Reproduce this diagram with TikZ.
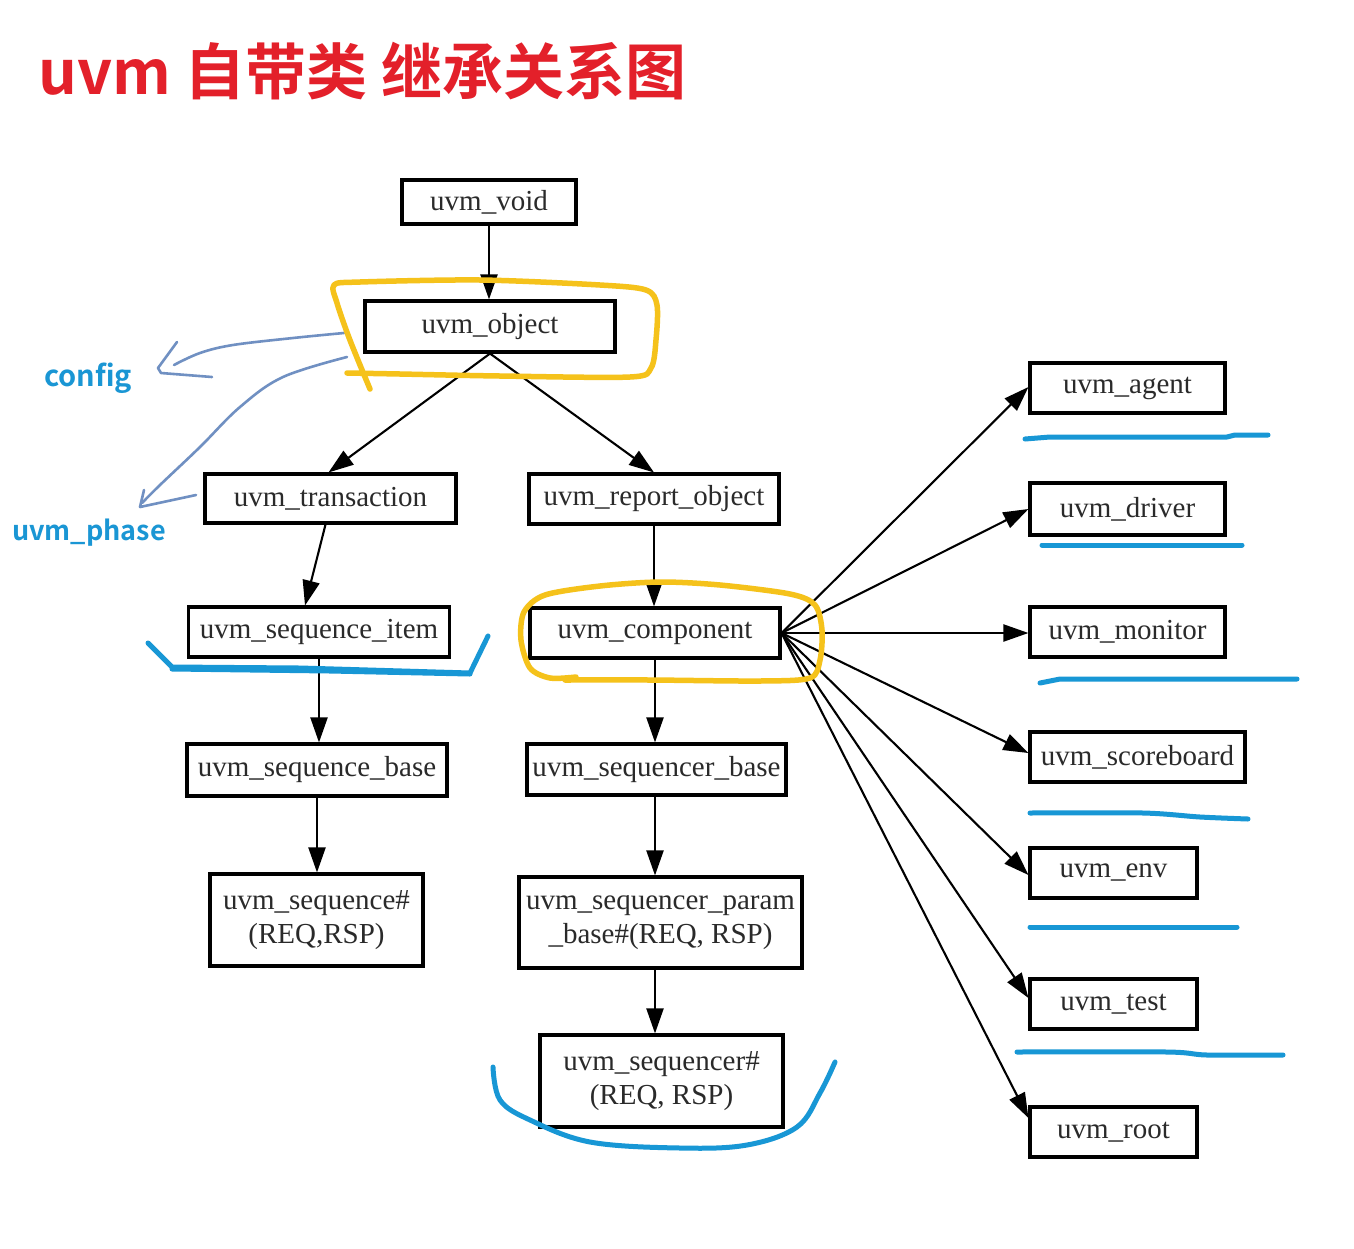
\documentclass[tikz,border=0pt]{standalone}
\usepackage{fontspec}
\setmainfont{Liberation Serif}
\newfontfamily\cjk{Noto Sans CJK SC}[BoldFont={Noto Sans CJK SC Bold}]
\usetikzlibrary{arrows.meta}
\definecolor{txt}{HTML}{2A2A2A}
\definecolor{titlered}{HTML}{E3202A}
\definecolor{labelblue}{HTML}{1A96D4}
\definecolor{penblue}{HTML}{1897D5}
\definecolor{steel}{HTML}{7090C2}
\definecolor{marker}{HTML}{F5C21B}
\begin{document}
\begin{tikzpicture}[x=1pt,y=-1pt,
  box/.style={draw=black, line width=3.1pt, inner sep=0pt, text=txt,
    font=\fontsize{29}{34}\selectfont, align=center},
  edge/.style={line width=2.1pt, draw=black, -{Triangle[length=25pt,width=17pt]}},
  hilite/.style={draw=marker, line width=5.5pt, line cap=round, line join=round},
  underl/.style={draw=penblue, line width=5pt, line cap=round, line join=round},
  penarrow/.style={draw=steel, line width=2.6pt, line cap=round, line join=round},
  lbl/.style={font=\cjk\bfseries\fontsize{29}{32}\selectfont, text=labelblue, inner sep=0pt, anchor=base west}]
\useasboundingbox (0,0) rectangle (1354,1248);
\fill[white] (0,0) rectangle (1354,1248);

% title
\node[anchor=base west, inner sep=0pt, text=titlered,
  font=\cjk\bfseries\fontsize{61}{64}\selectfont] (title) at (38,94) {uvm 自带类 继承关系图};

% nodes
\node[box, minimum width=174pt, minimum height=44pt] (void) at (489,202) {uvm\_void};
\node[box, minimum width=250pt, minimum height=51pt] (object) at (490,326.5) {uvm\_object};
\node[box, minimum width=251pt, minimum height=49pt] (trans) at (330.5,498.5) {uvm\_transaction};
\node[box, minimum width=250pt, minimum height=50pt] (report) at (654,499) {uvm\_report\_object};
\node[box, minimum width=261pt, minimum height=50pt] (item) at (319,632) {uvm\_sequence\_item};
\node[box, minimum width=250pt, minimum height=50pt] (comp) at (655,633) {uvm\_component};
\node[box, minimum width=260pt, minimum height=52pt] (seqbase) at (317,770) {uvm\_sequence\_base};
\node[box, minimum width=259pt, minimum height=51pt] (sqrbase) at (656.5,769.5) {uvm\_sequencer\_base};
\node[box, minimum width=213pt, minimum height=92pt] (seq) at (316.5,920) {uvm\_sequence\#\\(REQ,RSP)};
\node[box, minimum width=283pt, minimum height=91pt] (param) at (660.5,922.5) {uvm\_sequencer\_param\\\_base\#(REQ, RSP)};
\node[box, minimum width=243pt, minimum height=92pt] (sqr) at (661.5,1081) {uvm\_sequencer\#\\(REQ, RSP)};
\node[box, minimum width=195pt, minimum height=50pt] (agent) at (1127.5,388) {uvm\_agent};
\node[box, minimum width=195pt, minimum height=52pt] (driver) at (1127.5,509) {uvm\_driver};
\node[box, minimum width=195pt, minimum height=50pt] (monitor) at (1127.5,632) {uvm\_monitor};
\node[box, minimum width=215pt, minimum height=50pt] (score) at (1137.5,757) {uvm\_scoreboard};
\node[box, minimum width=167pt, minimum height=50pt] (env) at (1113.5,873) {uvm\_env};
\node[box, minimum width=167pt, minimum height=50pt] (test) at (1113.5,1004) {uvm\_test};
\node[box, minimum width=167pt, minimum height=50pt] (root) at (1113.5,1132) {uvm\_root};

% edges
\draw[edge] (void.south) -- (void.south |- object.north);
\draw[edge] (object.south) -- ([xshift=-2pt]trans.north);
\draw[edge] (object.south) -- (report.north);
\draw[edge] ([xshift=-5pt]trans.south) -- ([xshift=-14pt]item.north);
\draw[edge] (report.south) -- (report.south |- comp.north);
\draw[edge] (item.south) -- (item.south |- seqbase.north);
\draw[edge] (seqbase.south) -- (seqbase.south |- seq.north);
\draw[edge] (comp.south) -- (comp.south |- sqrbase.north);
\draw[edge] (comp.south |- sqrbase.south) -- (comp.south |- param.north);
\draw[edge] (comp.south |- param.south) -- (comp.south |- sqr.north);
\draw[edge] (comp.east) -- ([yshift=1pt]agent.west);
\draw[edge] (comp.east) -- (driver.west);
\draw[edge] (comp.east) -- (comp.east -| monitor.west);
\draw[edge] (comp.east) -- ([yshift=4pt]score.west);
\draw[edge] (comp.east) -- ([yshift=-2pt]env.west);
\draw[edge] (comp.east) -- ([yshift=6pt]test.west);
\draw[edge] (comp.east) -- ([yshift=14pt]root.west);

% labels
\node[lbl] (config) at (44,386) {config};
\node[lbl, font=\cjk\bfseries\fontsize{27}{30}\selectfont] (phase) at (12,540) {uvm\_phase};

% hand-drawn arrows
\draw[penarrow] plot[smooth, tension=0.6] coordinates {(344,333) (293,338) (233,345) (200,353) (174,365)};
\draw[penarrow] (177,342) -- (158,368) -- (161,373) -- (212,377);
\draw[penarrow] plot[smooth, tension=0.6] coordinates {(347,357) (283,377) (240,407) (200,447) (160,485) (142,503)};
\draw[penarrow] (144,490) -- (140,507) -- (196,495);

% yellow highlights
\draw[hilite] plot[smooth, tension=0.5] coordinates {(370,389) (360,365) (348,335) (337,303) (334,285) (360,282) (480,280) (600,285) (646,290) (657,305) (656,340) (651,368) (630,377) (500,376) (400,374) (347,373)};
\draw[hilite] plot[smooth, tension=0.5] coordinates {(576,677) (550,678) (530,668) (521,640) (524,612) (545,595) (600,586) (660,582) (720,585) (790,594) (815,605) (822,630) (820,660) (810,678) (760,681) (650,680) (565,680)};

% blue underlines
\draw[underl] (148,643) -- (172,667) -- (300,668) -- (470,673) -- (488,636);
\draw[underl] (172,669) -- (330,671) -- (470,674);
\draw[underl] plot[smooth, tension=0.6] coordinates {(493,1067) (500,1100) (530,1120) (590,1142) (680,1148) (747,1145) (797,1127) (820,1093) (835,1062)};
\draw[underl] (1025,439) -- (1050,437) -- (1227,437) -- (1235,435) -- (1268,435);
\draw[underl] (1042,545) -- (1242,545);
\draw[underl] (1040,683) -- (1060,679) -- (1297,679);
\draw[underl] plot[smooth, tension=0.5] coordinates {(1030,813) (1143,813) (1200,817) (1248,819)};
\draw[underl] (1030,927) -- (1237,927);
\draw[underl] plot[smooth, tension=0.5] coordinates {(1017,1052) (1167,1052) (1207,1055) (1283,1055)};
\end{tikzpicture}
\end{document}
